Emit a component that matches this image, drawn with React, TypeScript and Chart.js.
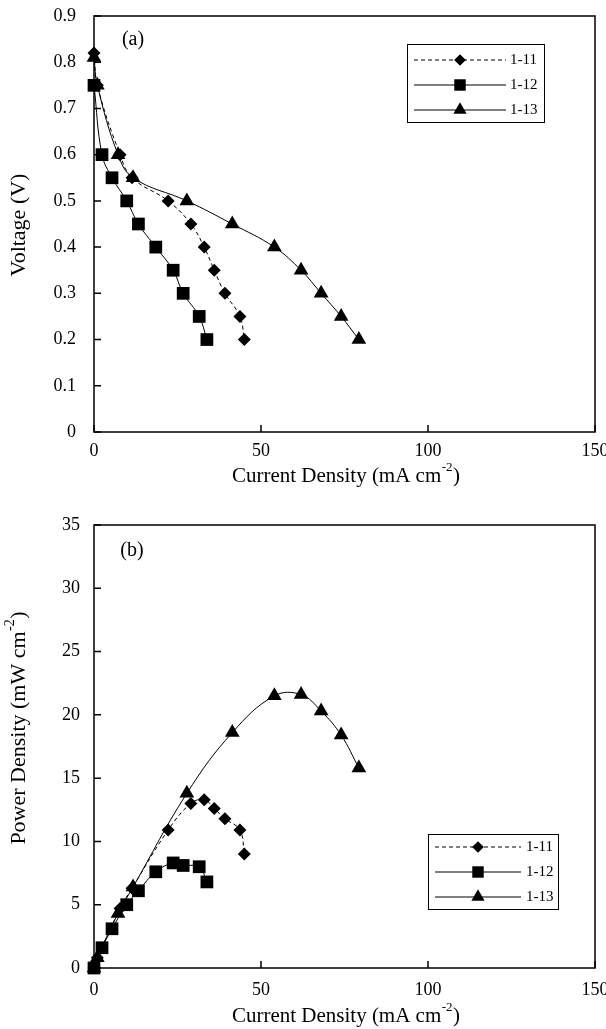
import React, { useEffect, useRef } from "react";
import { Chart, registerables } from "chart.js";
import { drawPoint } from "chart.js/helpers";

Chart.register(...registerables);

// ---------------- data ----------------
const seriesLabels = ["1-11", "1-12", "1-13"];

const current11 = [0, 1, 7.8, 11.4, 22.2, 29, 33, 36, 39.2, 43.7, 45];
const voltage11 = [0.82, 0.75, 0.6, 0.55, 0.5, 0.45, 0.4, 0.35, 0.3, 0.25, 0.2];
const power11 = [0, 0.8, 4.7, 6.3, 10.9, 13.0, 13.3, 12.6, 11.8, 10.9, 9.0];

const current12 = [0, 2.4, 5.4, 9.8, 13.3, 18.5, 23.7, 26.7, 31.5, 33.8];
const voltage12 = [0.75, 0.6, 0.55, 0.5, 0.45, 0.4, 0.35, 0.3, 0.25, 0.2];
const power12 = [0, 1.6, 3.1, 5.0, 6.1, 7.6, 8.3, 8.1, 8.0, 6.8];

const current13 = [0, 1, 7.2, 11.7, 27.8, 41.4, 54, 62, 68, 74, 79.3];
const voltage13 = [0.81, 0.75, 0.6, 0.55, 0.5, 0.45, 0.4, 0.35, 0.3, 0.25, 0.2];
const power13 = [0, 0.8, 4.3, 6.4, 13.8, 18.6, 21.5, 21.6, 20.3, 18.4, 15.8];

const currentTicks = [0, 50, 100, 150];
const voltageTicks = [0, 0.1, 0.2, 0.3, 0.4, 0.5, 0.6, 0.7, 0.8, 0.9];
const powerTicks = [0, 5, 10, 15, 20, 25, 30, 35];

// axis titles: [main text, superscript, closing text]
const currentTitle = ["Current Density (mA cm", "-2", ")"];
const voltageTitle = ["Voltage (V)", "", ""];
const powerTitle = ["Power Density (mW cm", "-2", ")"];

// ---------------- styles ----------------
const FONT = "'Liberation Serif', 'Times New Roman', serif";
const seriesStyles = [
  { pointStyle: "rectRot", radius: 6.5, dash: [4, 3] },
  { pointStyle: "rect", radius: 9, dash: [] as number[] },
  { pointStyle: "triangle", radius: 8.5, dash: [] as number[] },
];

const framePlugin = {
  id: "frameDeco",
  beforeDatasetsDraw(chart: any, _args: any, opts: any) {
    const { ctx, chartArea: a, scales } = chart;
    ctx.save();
    ctx.strokeStyle = "#000";
    ctx.lineWidth = opts.lineWidth;
    ctx.strokeRect(a.left, a.top, a.right - a.left, a.bottom - a.top);
    ctx.lineWidth = opts.tickWidth;
    ctx.beginPath();
    for (const t of scales.x.ticks) {
      const px = scales.x.getPixelForValue(t.value);
      ctx.moveTo(px, a.bottom);
      ctx.lineTo(px, a.bottom - opts.tickLength);
    }
    for (const t of scales.y.ticks) {
      const py = scales.y.getPixelForValue(t.value);
      ctx.moveTo(a.left, py);
      ctx.lineTo(a.left + opts.tickLength, py);
    }
    ctx.stroke();
    ctx.restore();
  },
};

const legendPlugin = {
  id: "boxLegend",
  afterDatasetsDraw(chart: any, _args: any, opts: any) {
    const { ctx } = chart;
    ctx.save();
    ctx.fillStyle = "#fff";
    ctx.fillRect(opts.left, opts.top, opts.width, opts.height);
    ctx.strokeStyle = "#000";
    ctx.lineWidth = 1;
    ctx.strokeRect(opts.left + 0.5, opts.top + 0.5, opts.width, opts.height);
    chart.data.datasets.forEach((ds: any, i: number) => {
      const y = opts.rowY[i];
      ctx.beginPath();
      ctx.setLineDash(ds.borderDash || []);
      ctx.lineWidth = ds.borderWidth;
      ctx.strokeStyle = ds.borderColor;
      ctx.moveTo(opts.lineStart, y);
      ctx.lineTo(opts.lineEnd, y);
      ctx.stroke();
      ctx.setLineDash([]);
      ctx.fillStyle = ds.pointBackgroundColor;
      ctx.strokeStyle = ds.pointBorderColor;
      drawPoint(
        ctx,
        { pointStyle: ds.pointStyle, radius: ds.pointRadius * 0.9, rotation: 0, borderWidth: 0 } as any,
        (opts.lineStart + opts.lineEnd) / 2,
        y
      );
      ctx.fillStyle = "#000";
      ctx.font = opts.font;
      ctx.textBaseline = "middle";
      ctx.textAlign = "left";
      ctx.fillText(ds.label, opts.textX, y);
    });
    ctx.restore();
  },
};

function drawRichText(ctx: CanvasRenderingContext2D, item: any) {
  const [main, sup, tail] = item.parts as string[];
  const baseFont = `${item.size}px ${FONT}`;
  const supFont = `${Math.round(item.size * 0.62)}px ${FONT}`;
  ctx.save();
  ctx.translate(item.x, item.y);
  ctx.rotate(item.rotation);
  ctx.fillStyle = "#000";
  ctx.textBaseline = "middle";
  ctx.textAlign = "left";
  ctx.font = baseFont;
  const w1 = ctx.measureText(main).width;
  const w3 = ctx.measureText(tail).width;
  ctx.font = supFont;
  const w2 = sup ? ctx.measureText(sup).width + 1 : 0;
  let cx = -(w1 + w2 + w3) / 2;
  ctx.font = baseFont;
  ctx.fillText(main, cx, 0);
  cx += w1;
  if (sup) {
    ctx.font = supFont;
    ctx.fillText(sup, cx + 0.5, -item.size * 0.38);
    cx += w2;
  }
  ctx.font = baseFont;
  if (tail) ctx.fillText(tail, cx, 0);
  ctx.restore();
}

const textPlugin = {
  id: "panelText",
  afterDraw(chart: any, _args: any, opts: any) {
    const { ctx } = chart;
    ctx.save();
    ctx.fillStyle = "#000";
    ctx.font = opts.labelFont;
    ctx.textAlign = "center";
    ctx.textBaseline = "middle";
    ctx.fillText(opts.label, opts.labelX, opts.labelY);
    ctx.restore();
    for (const item of opts.titles) drawRichText(ctx, item);
  },
};

function buildConfig(
  ySeries: number[][],
  yTicks: number[],
  layout: any,
  legend: any,
  panel: any
): any {
  const xs = [current11, current12, current13];
  const tickFont = { family: FONT, size: 18 };
  return {
    type: "line",
    data: {
      datasets: seriesLabels.map((label, i) => ({
        label,
        data: xs[i].map((x, j) => ({ x, y: ySeries[i][j] })),
        borderColor: "#000",
        backgroundColor: "#000",
        borderWidth: 1,
        borderDash: seriesStyles[i].dash,
        pointStyle: seriesStyles[i].pointStyle,
        pointRadius: seriesStyles[i].radius,
        pointBackgroundColor: "#000",
        pointBorderColor: "#000",
        pointBorderWidth: 0,
        tension: 0.4,
        fill: false,
        clip: false,
      })),
    },
    options: {
      responsive: false,
      animation: false,
      devicePixelRatio: 1,
      layout: { padding: { left: 0, right: 11, top: layout.top, bottom: 0 } },
      plugins: {
        legend: { display: false },
        tooltip: { enabled: false },
        frameDeco: { lineWidth: 1.5, tickWidth: 1.5, tickLength: 7 },
        boxLegend: legend,
        panelText: panel,
      },
      scales: {
        x: {
          type: "linear",
          min: currentTicks[0],
          max: currentTicks[currentTicks.length - 1],
          afterBuildTicks: (s: any) => {
            s.ticks = currentTicks.map((v) => ({ value: v }));
          },
          ticks: { font: tickFont, color: "#000", padding: layout.xTickPad, maxRotation: 0, autoSkip: false },
          grid: { display: false, drawTicks: false },
          border: { display: false },
          title: { display: false },
          afterFit: (s: any) => {
            s.height = layout.xAxisH;
            s.paddingLeft = 0;
            s.paddingRight = 0;
          },
        },
        y: {
          type: "linear",
          min: yTicks[0],
          max: yTicks[yTicks.length - 1],
          afterBuildTicks: (s: any) => {
            s.ticks = yTicks.map((v) => ({ value: v }));
          },
          ticks: { font: tickFont, color: "#000", padding: layout.yTickPad, autoSkip: false },
          grid: { display: false, drawTicks: false },
          border: { display: false },
          title: { display: false },
          afterFit: (s: any) => {
            s.width = 94;
            s.paddingTop = 0;
            s.paddingBottom = 0;
          },
        },
      },
    },
    plugins: [framePlugin, legendPlugin, textPlugin],
  };
}

function ChartCanvas({ top, height, config }: { top: number; height: number; config: () => any }) {
  const ref = useRef<HTMLCanvasElement | null>(null);
  useEffect(() => {
    document.body.style.margin = "0";
    if (!ref.current) return;
    const chart = new Chart(ref.current, config());
    return () => chart.destroy();
  }, []);
  return (
    <canvas
      ref={ref}
      width={606}
      height={height}
      style={{ position: "absolute", left: 0, top, width: 606, height, display: "block" }}
    />
  );
}

export default function App() {
  const configA = () =>
    buildConfig(
      [voltage11, voltage12, voltage13],
      voltageTicks,
      { top: 16, xAxisH: 68, xTickPad: 8, yTickPad: 18 },
      {
        left: 407, top: 44, width: 137, height: 78,
        lineStart: 414, lineEnd: 506, textX: 510,
        rowY: [60, 85, 110],
        font: `15px ${FONT}`,
      },
      {
        label: "(a)", labelX: 133, labelY: 40, labelFont: `20px ${FONT}`,
        titles: [
          { parts: currentTitle, x: 346, y: 476, rotation: 0, size: 21 },
          { parts: voltageTitle, x: 19, y: 225, rotation: -Math.PI / 2, size: 22 },
        ],
      }
    );
  const configB = () =>
    buildConfig(
      [power11, power12, power13],
      powerTicks,
      { top: 25, xAxisH: 72, xTickPad: 11, yTickPad: 14 },
      {
        left: 428, top: 334, width: 130, height: 75,
        lineStart: 435, lineEnd: 521, textX: 526,
        rowY: [347, 372, 397],
        font: `15px ${FONT}`,
      },
      {
        label: "(b)", labelX: 132, labelY: 51, labelFont: `20px ${FONT}`,
        titles: [
          { parts: currentTitle, x: 346, y: 516, rotation: 0, size: 21 },
          { parts: powerTitle, x: 19, y: 228, rotation: -Math.PI / 2, size: 22 },
        ],
      }
    );
  return (
    <div style={{ position: "relative", width: 606, height: 1029, overflow: "hidden", background: "#fff" }}>
      <ChartCanvas top={0} height={500} config={configA} />
      <ChartCanvas top={500} height={540} config={configB} />
    </div>
  );
}
